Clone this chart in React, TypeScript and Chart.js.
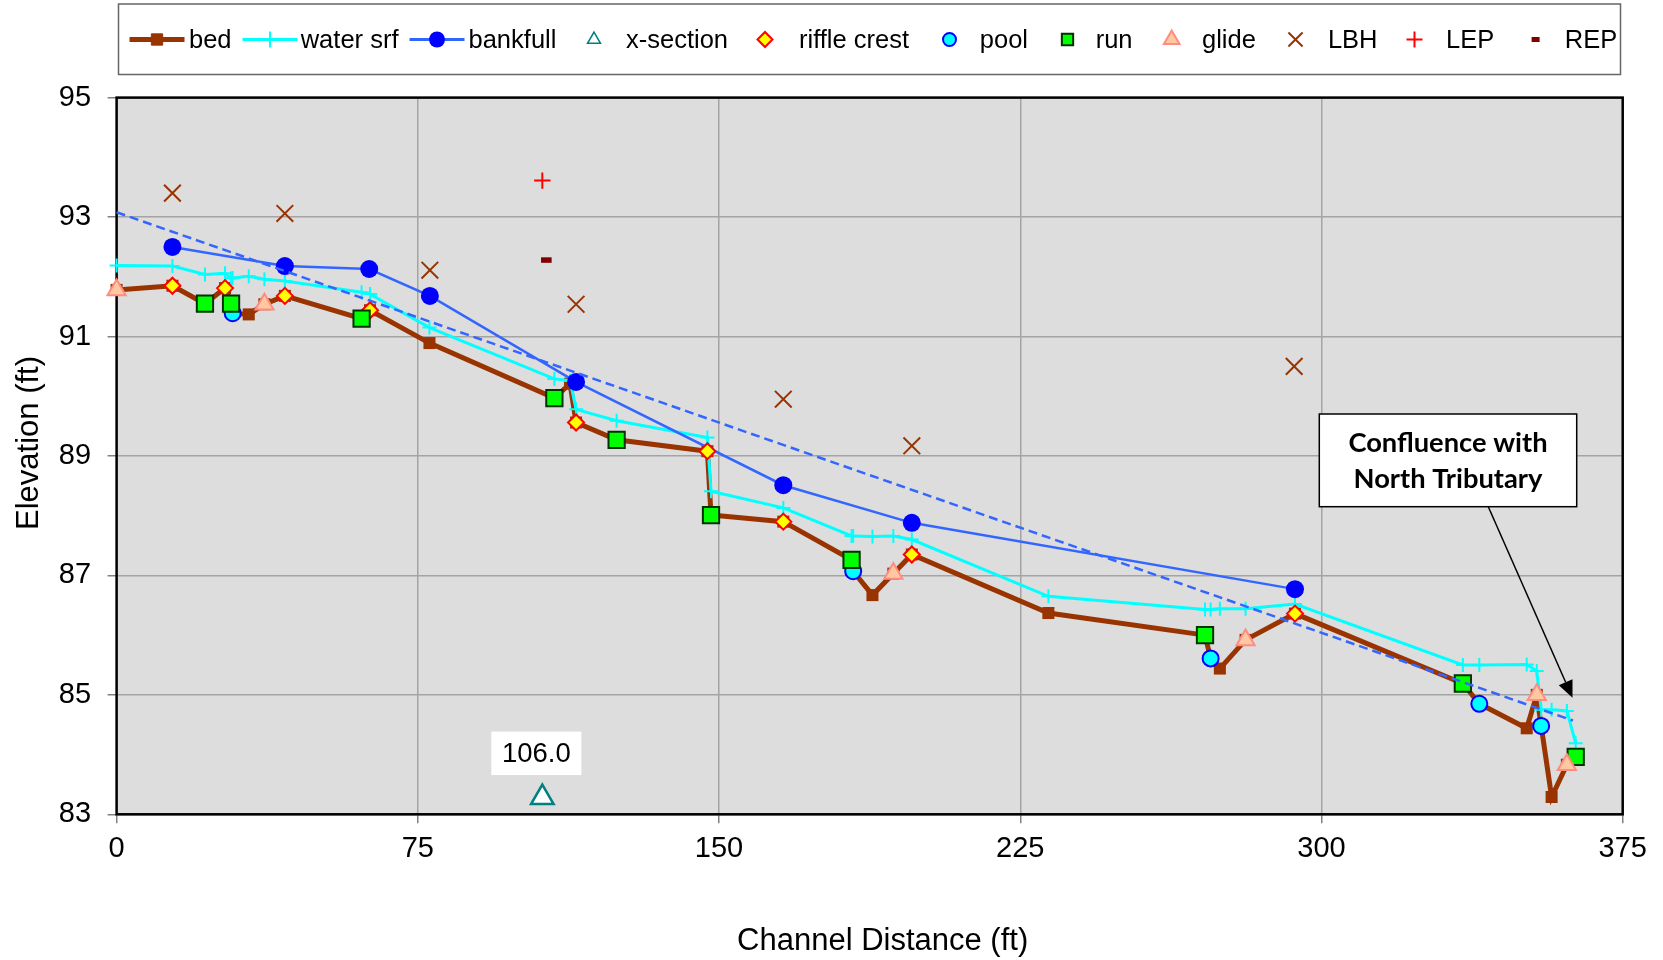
import React, { useEffect, useRef } from 'react';
import { Chart, registerables } from 'chart.js';
import { drawPoint } from 'chart.js/helpers';

Chart.register(...registerables);

// ---------- data (ft) ----------
const STATION_FT = [0, 13.9, 22.0, 27.0, 28.5, 28.9, 32.9, 36.8, 41.9, 61.0, 63.1, 77.9, 109.0, 112.9, 114.4, 124.5, 147.1, 148.0, 166.0, 183.0, 183.4, 188.2, 193.4, 198.0, 232.0, 271.0, 272.4, 274.7, 281.1, 293.4, 335.2, 339.3, 351.1, 353.6, 354.7, 357.3, 361.1, 363.3];
const BED_ELEV = [91.78, 91.85, 91.55, 91.81, 91.55, 91.39, 91.37, 91.54, 91.68, 91.30, 91.44, 90.89, 89.97, 90.21, 89.56, 89.27, 89.08, 88.01, 87.90, 87.26, 87.07, 86.67, 87.03, 87.35, 86.37, 86.00, 85.61, 85.44, 85.92, 86.36, 85.19, 84.85, 84.44, 85.00, 84.48, 83.29, 83.83, 83.96];
const WATER_SRF_ELEV = [92.19, 92.18, 92.04, 92.06, 91.97, 91.98, 92.01, 91.96, 91.93, 91.74, 91.71, 91.15, 90.29, 90.26, 89.78, 89.59, 89.31, 88.41, 88.13, 87.66, 87.66, 87.65, 87.66, 87.60, 86.65, 86.43, 86.43, 86.44, 86.44, 86.52, 85.50, 85.50, 85.51, 85.40, 84.75, 84.75, 84.73, 84.19];

const BANKFULL_STATION = [13.9, 41.9, 62.9, 78.0, 114.4, 166.0, 198.0, 293.4];
const BANKFULL_ELEV = [92.50, 92.18, 92.13, 91.68, 90.24, 88.51, 87.88, 86.77];

const XSECTION_STATION = [106.0];
const XSECTION_ELEV = [83.28];

const RIFFLE_STATION = [13.9, 27.0, 41.9, 63.1, 114.4, 147.1, 166.0, 198.0, 293.4];
const RIFFLE_ELEV = [91.85, 91.81, 91.68, 91.44, 89.56, 89.08, 87.90, 87.35, 86.36];

const POOL_STATION = [28.9, 183.4, 272.4, 339.3, 354.7];
const POOL_ELEV = [91.39, 87.07, 85.61, 84.85, 84.48];

const RUN_STATION = [22.0, 28.5, 61.0, 109.0, 124.5, 148.0, 183.0, 271.0, 335.2, 363.3];
const RUN_ELEV = [91.55, 91.55, 91.30, 89.97, 89.27, 88.01, 87.26, 86.00, 85.19, 83.96];

const GLIDE_STATION = [0, 36.8, 193.4, 281.1, 353.6, 361.1];
const GLIDE_ELEV = [91.78, 91.54, 87.03, 85.92, 85.00, 83.83];

const LBH_STATION = [13.9, 41.9, 78.0, 114.4, 166.0, 198.0, 293.2];
const LBH_ELEV = [93.40, 93.06, 92.11, 91.54, 89.95, 89.17, 90.50];

const LEP_STATION = [106.0];
const LEP_ELEV = [93.61];
const REP_STATION = [107.0];
const REP_ELEV = [92.28];

const TREND_STATION = [0, 362.6];
const TREND_ELEV = [93.08, 84.57];

const X_TICKS = [0, 75, 150, 225, 300, 375];
const Y_TICKS = [83, 85, 87, 89, 91, 93, 95];

const SERIES_NAMES = ['bed', 'water srf', 'bankfull', 'x-section', 'riffle crest', 'pool', 'run', 'glide', 'LBH', 'LEP', 'REP'];
const X_TITLE = 'Channel Distance (ft)';
const Y_TITLE = 'Elevation (ft)';
const ANNOTATION_LINES = ['Confluence with', 'North Tributary'];
const ANNOTATION_TARGET = { x: 362.5, y: 84.95 };

// ---------- helpers ----------
const pts = (xs: number[], ys: number[]) => xs.map((x, i) => ({ x, y: ys[i] }));
const FONT = "'Liberation Sans', Arial, sans-serif";

type Sym = {
  line?: { color: string; width: number };
  style: any;
  radius: number;
  fill: string;
  stroke: string;
  bw: number;
};

const SYMBOLS: Sym[] = [
  { line: { color: '#993300', width: 5 }, style: 'rect', radius: 8, fill: '#993300', stroke: '#993300', bw: 1 },
  { line: { color: '#00FFFF', width: 3 }, style: 'cross', radius: 8, fill: '#00FFFF', stroke: '#00FFFF', bw: 2 },
  { line: { color: '#3366FF', width: 3 }, style: 'circle', radius: 8, fill: '#0000FF', stroke: '#0000FF', bw: 0 },
  { style: 'triangle', radius: 7.5, fill: '#FFFFFF', stroke: '#008080', bw: 1.5 },
  { style: 'rectRot', radius: 7.5, fill: '#FFFF00', stroke: '#FF0000', bw: 2 },
  { style: 'circle', radius: 6.5, fill: '#00FFFF', stroke: '#0000FF', bw: 2 },
  { style: 'rect', radius: 8, fill: '#00FF00', stroke: '#003300', bw: 2 },
  { style: 'triangle', radius: 9, fill: '#FFC8A0', stroke: '#FF8C80', bw: 2 },
  { style: 'crossRot', radius: 10, fill: '#993300', stroke: '#993300', bw: 2 },
  { style: 'cross', radius: 8, fill: '#FF0000', stroke: '#FF0000', bw: 2 },
  { style: 'line', radius: 4, fill: '#800000', stroke: '#800000', bw: 5 },
];

// legend layout (pixels)
const LEG_SYMBOL_X = [157, 270, 437, 594, 765, 949.5, 1067.5, 1171.7, 1295.5, 1414.5, 1535.6];
const LEG_TEXT_X = [189, 300.7, 468.5, 626, 799, 979.8, 1095.7, 1202, 1327.9, 1446, 1564.8];

const decorPlugin = {
  id: 'decor',
  beforeDraw(chart: any) {
    const { ctx, chartArea: a } = chart;
    ctx.save();
    ctx.fillStyle = '#FFFFFF';
    ctx.fillRect(0, 0, chart.width, chart.height);
    ctx.fillStyle = '#DDDDDD';
    ctx.fillRect(a.left, a.top, a.right - a.left, a.bottom - a.top);
    ctx.restore();
  },
  beforeDatasetsDraw(chart: any) {
    const { ctx, chartArea: a } = chart;
    ctx.save();
    ctx.strokeStyle = '#000000';
    ctx.lineWidth = 2.5;
    ctx.strokeRect(a.left, a.top, a.right - a.left, a.bottom - a.top);
    ctx.restore();
  },
  afterDraw(chart: any) {
    const { ctx, chartArea: a } = chart;
    const xs = chart.scales.x;
    const ys = chart.scales.y;
    ctx.save();

    // ---- legend ----
    ctx.fillStyle = '#FFFFFF';
    ctx.fillRect(118.5, 4, 1502, 70.5);
    ctx.strokeStyle = '#666666';
    ctx.lineWidth = 1.5;
    ctx.strokeRect(118.5, 4, 1502, 70.5);
    const ly = 39.5;
    ctx.font = `25.5px ${FONT}`;
    ctx.textBaseline = 'middle';
    ctx.textAlign = 'left';
    SERIES_NAMES.forEach((name, i) => {
      const s = SYMBOLS[i];
      const cx = LEG_SYMBOL_X[i];
      if (s.line) {
        ctx.strokeStyle = s.line.color;
        ctx.lineWidth = s.line.width;
        ctx.beginPath();
        ctx.moveTo(cx - 27.5, ly);
        ctx.lineTo(cx + 27.5, ly);
        ctx.stroke();
      }
      ctx.fillStyle = s.fill;
      ctx.strokeStyle = s.stroke;
      ctx.lineWidth = s.bw;
      drawPoint(ctx, { pointStyle: s.style, radius: s.radius, rotation: 0, borderWidth: s.bw } as any, cx, ly);
      ctx.fillStyle = '#000000';
      ctx.fillText(name, LEG_TEXT_X[i], ly + 1);
    });

    // ---- axis titles ----
    ctx.fillStyle = '#000000';
    ctx.font = `31px ${FONT}`;
    ctx.textAlign = 'center';
    ctx.textBaseline = 'middle';
    ctx.fillText(X_TITLE, (a.left + a.right) / 2 + 13, 941);
    ctx.save();
    ctx.translate(29, (a.top + a.bottom) / 2 - 13);
    ctx.rotate(-Math.PI / 2);
    ctx.fillText(Y_TITLE, 0, 0);
    ctx.restore();

    // ---- x-section station label ----
    const px = xs.getPixelForValue(XSECTION_STATION[0]);
    const py = ys.getPixelForValue(XSECTION_ELEV[0]);
    ctx.fillStyle = '#FFFFFF';
    ctx.fillRect(px - 51, py - 66, 90, 43.5);
    ctx.fillStyle = '#000000';
    ctx.font = `27.5px ${FONT}`;
    ctx.fillText(XSECTION_STATION[0].toFixed(1), px - 6, py - 43);

    // ---- annotation ----
    const bx = 1319.3, by = 414, bw = 257.4, bh = 92.7;
    const tx = xs.getPixelForValue(ANNOTATION_TARGET.x);
    const ty = ys.getPixelForValue(ANNOTATION_TARGET.y);
    const sx = 1488.3, sy = by + bh;
    const ang = Math.atan2(ty - sy, tx - sx);
    const headLen = 17, headW = 7.5;
    const baseX = tx - Math.cos(ang) * headLen;
    const baseY = ty - Math.sin(ang) * headLen;
    ctx.strokeStyle = '#000000';
    ctx.lineWidth = 1.5;
    ctx.beginPath();
    ctx.moveTo(sx, sy);
    ctx.lineTo(baseX, baseY);
    ctx.stroke();
    ctx.fillStyle = '#000000';
    ctx.beginPath();
    ctx.moveTo(tx, ty);
    ctx.lineTo(baseX + Math.sin(ang) * headW, baseY - Math.cos(ang) * headW);
    ctx.lineTo(baseX - Math.sin(ang) * headW, baseY + Math.cos(ang) * headW);
    ctx.closePath();
    ctx.fill();

    ctx.fillStyle = '#FFFFFF';
    ctx.fillRect(bx, by, bw, bh);
    ctx.strokeStyle = '#000000';
    ctx.lineWidth = 1.5;
    ctx.strokeRect(bx, by, bw, bh);
    ctx.fillStyle = '#000000';
    ctx.font = `bold 27.3px Lato, 'Open Sans', sans-serif`;
    ctx.textAlign = 'center';
    ctx.textBaseline = 'middle';
    ctx.fillText(ANNOTATION_LINES[0], bx + bw / 2, 443);
    ctx.fillText(ANNOTATION_LINES[1], bx + bw / 2, 479.5);

    ctx.restore();
  },
};

export default function App() {
  const ref = useRef<HTMLCanvasElement | null>(null);

  useEffect(() => {
    if (!ref.current) return;
    const S = SYMBOLS;
    const pointDs = (i: number, xs: number[], ys: number[], order: number) => ({
      label: SERIES_NAMES[i],
      data: pts(xs, ys),
      showLine: false,
      pointStyle: S[i].style,
      pointRadius: i === 3 ? 13 : i === 4 ? 8 : i === 5 ? 8 : i === 6 ? 11.5 : i === 7 ? 10.5 : i === 8 ? 11.8 : i === 9 ? 8.2 : 5.3,
      pointBackgroundColor: S[i].fill,
      pointBorderColor: S[i].stroke,
      pointBorderWidth: i === 3 ? 2.5 : i === 10 ? 5.5 : S[i].bw,
      order,
      clip: false,
    });

    const chart = new Chart(ref.current, {
      type: 'scatter',
      data: {
        datasets: [
          {
            label: 'trend',
            data: pts(TREND_STATION, TREND_ELEV),
            showLine: true,
            borderColor: '#3366FF',
            borderWidth: 2.5,
            borderDash: [9, 5],
            pointRadius: 0,
            order: 0,
            clip: false,
          } as any,
          {
            label: SERIES_NAMES[0],
            data: pts(STATION_FT, BED_ELEV),
            showLine: true,
            borderColor: '#993300',
            borderWidth: 5,
            pointStyle: 'rect',
            pointRadius: 8.5,
            pointBackgroundColor: '#993300',
            pointBorderColor: '#993300',
            pointBorderWidth: 0,
            order: 11,
            clip: false,
          },
          {
            label: SERIES_NAMES[1],
            data: pts(STATION_FT, WATER_SRF_ELEV),
            showLine: true,
            borderColor: '#00FFFF',
            borderWidth: 3,
            pointStyle: 'cross',
            pointRadius: 7,
            pointBorderColor: '#00FFFF',
            pointBorderWidth: 2,
            order: 10,
            clip: false,
          },
          {
            label: SERIES_NAMES[2],
            data: pts(BANKFULL_STATION, BANKFULL_ELEV),
            showLine: true,
            borderColor: '#3366FF',
            borderWidth: 2.5,
            pointStyle: 'circle',
            pointRadius: 9,
            pointBackgroundColor: '#0000FF',
            pointBorderColor: '#0000FF',
            pointBorderWidth: 0,
            order: 9,
            clip: false,
          },
          pointDs(3, XSECTION_STATION, XSECTION_ELEV, 8),
          pointDs(4, RIFFLE_STATION, RIFFLE_ELEV, 7),
          pointDs(5, POOL_STATION, POOL_ELEV, 6),
          pointDs(6, RUN_STATION, RUN_ELEV, 5),
          pointDs(7, GLIDE_STATION, GLIDE_ELEV, 4),
          pointDs(8, LBH_STATION, LBH_ELEV, 3),
          pointDs(9, LEP_STATION, LEP_ELEV, 2),
          pointDs(10, REP_STATION, REP_ELEV, 1),
        ] as any,
      },
      options: {
        responsive: false,
        animation: false,
        events: [],
        devicePixelRatio: 1,
        layout: { padding: { left: 0, top: 97.6, right: 40.3, bottom: 0 } },
        elements: { line: { tension: 0 } },
        plugins: {
          legend: { display: false },
          tooltip: { enabled: false },
        },
        scales: {
          x: {
            type: 'linear',
            min: 0,
            max: 375,
            afterBuildTicks: (s: any) => {
              s.ticks = X_TICKS.map((v) => ({ value: v }));
            },
            afterFit: (s: any) => {
              s.height = 145.7;
            },
            grid: {
              color: '#A4A4A4',
              lineWidth: 1.5,
              tickLength: 9,
              tickColor: '#808080',
              tickWidth: 1.5,
            },
            border: { display: false },
            ticks: {
              color: '#000000',
              font: { family: FONT, size: 29 },
              padding: 8,
              maxRotation: 0,
              autoSkip: false,
            },
          },
          y: {
            type: 'linear',
            min: 83,
            max: 95,
            afterBuildTicks: (s: any) => {
              s.ticks = Y_TICKS.map((v) => ({ value: v }));
            },
            afterFit: (s: any) => {
              s.width = 116.6;
            },
            grid: {
              color: '#A4A4A4',
              lineWidth: 1.5,
              tickLength: 9,
              tickColor: '#808080',
              tickWidth: 1.5,
            },
            border: { display: false },
            ticks: {
              color: '#000000',
              font: { family: FONT, size: 29 },
              padding: 16.5,
              autoSkip: false,
            },
          },
        },
      } as any,
      plugins: [decorPlugin],
    });
    return () => chart.destroy();
  }, []);

  return (
    <div style={{ position: 'fixed', left: 0, top: 0, width: 1663, height: 960, background: '#fff' }}>
      <canvas ref={ref} width={1663} height={960} style={{ display: 'block', width: 1663, height: 960 }} />
    </div>
  );
}
